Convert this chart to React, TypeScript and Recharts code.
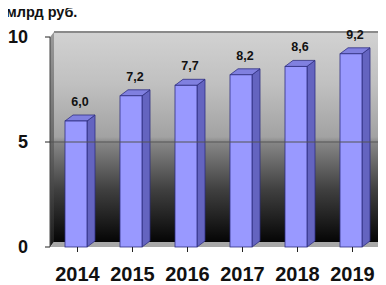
import React from 'react';
import * as R from 'recharts';
import { ComposedChart, Bar, XAxis, YAxis, ReferenceLine, LabelList } from 'recharts';

const years = ['2014', '2015', '2016', '2017', '2018', '2019'];
const values = [6.0, 7.2, 7.7, 8.2, 8.6, 9.2];
const yTicks = [0, 5, 10];
const unitLabel = 'млрд руб.';

const data = years.map((year, i) => ({ year, value: values[i] }));

const DX = 8;
const DY = 6;
const FONT = '"Liberation Sans", Arial, sans-serif';

const Bar3D = (props: any) => {
  const { x, y, width, height } = props;
  const bx = x - 2;
  const stroke = '#2e2e80';
  return (
    <g>
      <polygon
        points={`${bx + width},${y} ${bx + width + DX},${y - DY} ${bx + width + DX},${y + height - DY} ${bx + width},${y + height}`}
        fill="#6464c0"
        stroke={stroke}
        strokeWidth={0.8}
      />
      <polygon
        points={`${bx},${y} ${bx + DX},${y - DY} ${bx + width + DX},${y - DY} ${bx + width},${y}`}
        fill="#8080e0"
        stroke={stroke}
        strokeWidth={0.8}
      />
      <rect x={bx} y={y} width={width} height={height} fill="#9999ff" stroke={stroke} strokeWidth={0.8} />
    </g>
  );
};

const ValueLabel = (props: any) => {
  const { x, y, width, value } = props;
  return (
    <text
      x={x - 2 + width / 2 + DX / 2}
      y={y - 15}
      textAnchor="middle"
      fontFamily={FONT}
      fontWeight="bold"
      fontSize={12.5}
      fill="#111"
    >
      {Number(value).toFixed(1).replace('.', ',')}
    </text>
  );
};

const Decor = () => {
  const hook = (R as any).usePlotArea || (R as any).useOffset;
  const area = hook ? hook() : null;
  if (!area) return null;
  const x = area.x ?? area.left;
  const y = area.y ?? area.top;
  const w = area.width;
  const h = area.height;
  const sx = 4;
  const sy = 5;
  return (
    <g>
      <defs>
        <linearGradient id="wallGrad" x1="0" y1="0" x2="0" y2="1">
          <stop offset="0" stopColor="#d2d2d2" />
          <stop offset="0.25" stopColor="#c0c0c0" />
          <stop offset="0.5" stopColor="#a2a2a2" />
          <stop offset="0.53" stopColor="#858585" />
          <stop offset="0.75" stopColor="#404040" />
          <stop offset="1" stopColor="#050505" />
        </linearGradient>
        <linearGradient id="sideGrad" x1="0" y1="0" x2="0" y2="1">
          <stop offset="0" stopColor="#9a9a9a" />
          <stop offset="0.5" stopColor="#6a6a6a" />
          <stop offset="1" stopColor="#1a1a1a" />
        </linearGradient>
      </defs>
      <rect x={x + sx} y={y - sy} width={w + 10} height={h} fill="url(#wallGrad)" />
      <line x1={x + sx} y1={y - sy} x2={x + w + 10} y2={y - sy} stroke="#8a8a8a" strokeWidth={2} />
      <polygon
        points={`${x},${y} ${x + sx},${y - sy} ${x + sx},${y + h - sy} ${x},${y + h}`}
        fill="url(#sideGrad)"
      />
      <polygon
        points={`${x},${y + h} ${x + sx},${y + h - sy} ${x + w + 10},${y + h - sy} ${x + w + 6},${y + h}`}
        fill="#a8a8a8"
      />
    </g>
  );
};

export default function App() {
  return (
    <div style={{ position: 'relative', width: 386, height: 285, margin: '-8px 0 0 -8px' }}>
      <div
        style={{
          position: 'absolute',
          left: 6,
          top: 4,
          fontFamily: FONT,
          fontWeight: 'bold',
          fontSize: 14.5,
          lineHeight: '16px',
          color: '#111',
          zIndex: 2,
          whiteSpace: 'nowrap',
        }}
      >
        {unitLabel}
      </div>
      <ComposedChart width={386} height={285} data={data} margin={{ top: 37, right: 6, bottom: 0, left: 0 }}>
        <Decor />
        <XAxis
          dataKey="year"
          tickLine={{ stroke: '#222' }}
          axisLine={false}
          tickSize={5}
          tickMargin={15}
          height={38}
          interval={0}
          tick={{ fontFamily: FONT, fontWeight: 'bold', fontSize: 20, fill: '#111' }}
        />
        <YAxis
          domain={[0, 10]}
          ticks={yTicks}
          width={50}
          tickSize={5}
          tickMargin={17}
          axisLine={{ stroke: '#444' }}
          tickLine={{ stroke: '#222' }}
          tick={{ fontFamily: FONT, fontWeight: 'bold', fontSize: 18, fill: '#111' }}
        />
        <ReferenceLine y={5} stroke="#555" strokeWidth={1.2} />
        <Bar dataKey="value" barSize={22} shape={<Bar3D />} isAnimationActive={false}>
          <LabelList dataKey="value" content={<ValueLabel />} />
        </Bar>
      </ComposedChart>
    </div>
  );
}
